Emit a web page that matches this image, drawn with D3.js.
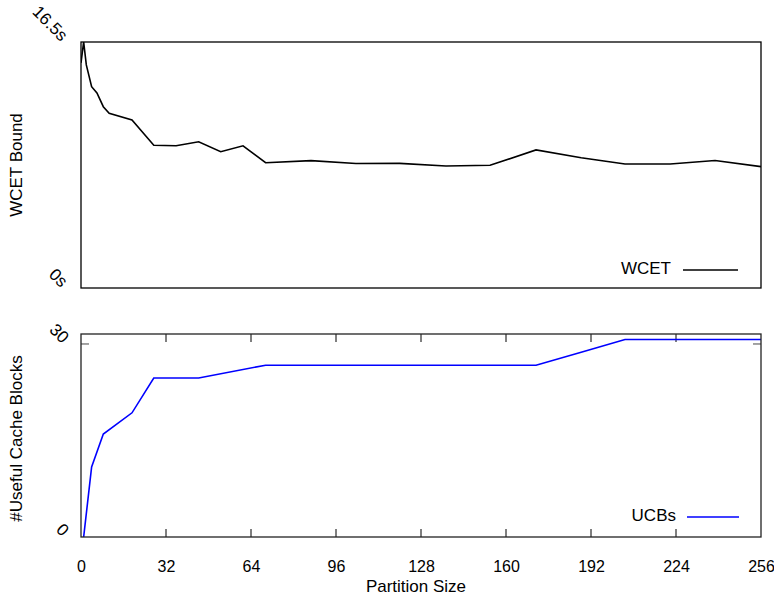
<!DOCTYPE html>
<html>
<head>
<meta charset="utf-8">
<script src="https://cdn.jsdelivr.net/npm/d3@7"></script>
<style>
  html, body { margin: 0; padding: 0; background: #fff; }
  svg { display: block; font-family: "Liberation Sans", Arial, sans-serif; }
</style>
</head>
<body>
<svg id="chart" width="774" height="598"></svg>
<script>
// ---- data ----
const wcetX = [0, 1, 2, 4, 6, 8.4, 10.6, 19.2, 27.4, 35.8, 44.3, 52.6, 61, 69.5, 86.6, 103.5, 120, 137.4, 154, 171.3, 188.3, 204.8, 221.8, 238.7, 256];
const wcetY = [15.1, 16.5, 14.96, 13.5, 13.08, 12.16, 11.72, 11.27, 9.57, 9.54, 9.81, 9.14, 9.54, 8.40, 8.54, 8.35, 8.36, 8.18, 8.23, 9.26, 8.74, 8.32, 8.32, 8.55, 8.14];
const ucbX = [1, 4, 8.4, 19.2, 27.4, 35.8, 44.3, 69.5, 86.6, 103.5, 120, 137.4, 154, 171.3, 188.3, 204.8, 221.8, 238.7, 256];
const ucbY = [0, 10.9, 16.0, 19.3, 24.7, 24.7, 24.7, 26.7, 26.7, 26.7, 26.7, 26.7, 26.7, 26.7, 28.7, 30.7, 30.7, 30.7, 30.7];
const xTicks = [0, 32, 64, 96, 128, 160, 192, 224, 256];
const wcetTickLabels = ["0s", "16.5s"];
const wcetTickValues = [0, 16.5];
const ucbTickLabels = ["0", "30"];
const ucbTickValues = [0, 30];

// ---- layout ----
const svg = d3.select("#chart");
const left = 81, right = 761;
const top1 = 42, bot1 = 288;
const top2 = 334, bot2 = 537;
const fontSize = 17;
const tickFont = 16;

const x = d3.scaleLinear().domain([0, 256]).range([left, right]);
const y1 = d3.scaleLinear().domain([0, 16.5]).range([bot1, top1]);
const y2 = d3.scaleLinear().domain([0, 31.55]).range([bot2, top2]);

const defs = svg.append("defs");
defs.append("clipPath").attr("id", "c1").append("rect")
  .attr("x", left).attr("y", top1).attr("width", right - left).attr("height", bot1 - top1);
defs.append("clipPath").attr("id", "c2").append("rect")
  .attr("x", left).attr("y", top2).attr("width", right - left).attr("height", bot2 - top2);

// ---- top panel ----
const wData = wcetX.map((d, i) => [d, wcetY[i]]);
svg.append("path")
  .datum(wData)
  .attr("clip-path", "url(#c1)")
  .attr("fill", "none").attr("stroke", "#000").attr("stroke-width", 1.6)
  .attr("d", d3.line().x(d => x(d[0])).y(d => y1(d[1])));

svg.append("rect")
  .attr("x", left).attr("y", top1).attr("width", right - left).attr("height", bot1 - top1)
  .attr("fill", "none").attr("stroke", "#000").attr("stroke-width", 1.3);

wcetTickValues.forEach((v, i) => {
  svg.append("text")
    .attr("transform", `translate(${left - 17},${y1(v) - 3}) rotate(45)`)
    .attr("text-anchor", "end")
    .attr("dominant-baseline", "middle")
    .attr("font-size", fontSize)
    .attr("fill", "#000")
    .text(wcetTickLabels[i]);
});

svg.append("text")
  .attr("transform", `translate(18,${(top1 + bot1) / 2}) rotate(-90)`)
  .attr("text-anchor", "middle").attr("dominant-baseline", "middle")
  .attr("font-size", fontSize).text("WCET Bound");

svg.append("text")
  .attr("x", 671).attr("y", 270)
  .attr("text-anchor", "end").attr("dominant-baseline", "middle")
  .attr("font-size", fontSize).text("WCET");
svg.append("line")
  .attr("x1", 683).attr("x2", 738).attr("y1", 270).attr("y2", 270)
  .attr("stroke", "#000").attr("stroke-width", 1.6);

// ---- bottom panel ----
const uData = ucbX.map((d, i) => [d, ucbY[i]]);

const tickG = svg.append("g");
xTicks.filter(t => t > 0 && t < 256).forEach(t => {
  tickG.append("line").attr("x1", x(t)).attr("x2", x(t)).attr("y1", bot2).attr("y2", bot2 - 8)
    .attr("stroke", "#000").attr("stroke-width", 1);
  tickG.append("line").attr("x1", x(t)).attr("x2", x(t)).attr("y1", top2).attr("y2", top2 + 8)
    .attr("stroke", "#000").attr("stroke-width", 1);
});
tickG.append("line").attr("x1", left).attr("x2", left + 8).attr("y1", y2(30)).attr("y2", y2(30))
  .attr("stroke", "#666").attr("stroke-width", 1.2);
tickG.append("line").attr("x1", right).attr("x2", right - 8).attr("y1", y2(30)).attr("y2", y2(30))
  .attr("stroke", "#666").attr("stroke-width", 1.2);

svg.append("path")
  .datum(uData)
  .attr("clip-path", "url(#c2)")
  .attr("fill", "none").attr("stroke", "#0000ff").attr("stroke-width", 1.6)
  .attr("d", d3.line().x(d => x(d[0])).y(d => y2(d[1])));

svg.append("rect")
  .attr("x", left).attr("y", top2).attr("width", right - left).attr("height", bot2 - top2)
  .attr("fill", "none").attr("stroke", "#222").attr("stroke-width", 1.3);

const xAxis = d3.axisBottom(x).tickValues(xTicks).tickSize(0).tickPadding(0).tickFormat(d3.format("d"));
const gx = svg.append("g").attr("transform", `translate(0,${bot2})`).call(xAxis);
gx.select(".domain").remove();
gx.selectAll("text")
  .attr("font-family", "Liberation Sans, Arial, sans-serif")
  .attr("font-size", tickFont).attr("fill", "#000")
  .attr("dy", null).attr("y", 31)
  .attr("dominant-baseline", "middle");

ucbTickValues.forEach((v, i) => {
  svg.append("text")
    .attr("transform", `translate(${left - 16},${y2(v) - 3}) rotate(45)`)
    .attr("text-anchor", "end")
    .attr("dominant-baseline", "middle")
    .attr("font-size", fontSize)
    .attr("fill", "#000")
    .text(ucbTickLabels[i]);
});

svg.append("text")
  .attr("transform", `translate(18,${(top2 + bot2) / 2 + 3}) rotate(-90)`)
  .attr("text-anchor", "middle").attr("dominant-baseline", "middle")
  .attr("font-size", fontSize).text("#Useful Cache Blocks");

svg.append("text")
  .attr("x", 676).attr("y", 517)
  .attr("text-anchor", "end").attr("dominant-baseline", "middle")
  .attr("font-size", fontSize).text("UCBs");
svg.append("line")
  .attr("x1", 687).attr("x2", 739).attr("y1", 517).attr("y2", 517)
  .attr("stroke", "#0000ff").attr("stroke-width", 1.6);

svg.append("text")
  .attr("x", 416).attr("y", 588)
  .attr("text-anchor", "middle").attr("dominant-baseline", "middle")
  .attr("font-size", fontSize).text("Partition Size");
</script>
</body>
</html>
